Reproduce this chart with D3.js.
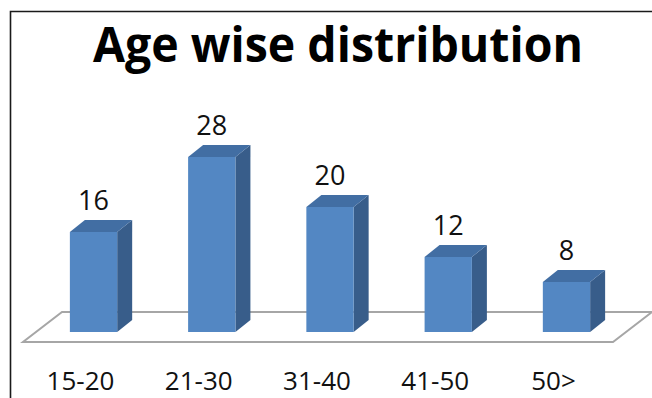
<!DOCTYPE html>
<html>
<head>
<meta charset="utf-8">
<script src="https://cdn.jsdelivr.net/npm/d3@7/dist/d3.min.js"></script>
<style>
  html, body { margin: 0; padding: 0; background: #fff; }
  svg { display: block; }
</style>
</head>
<body>
<svg id="chart" width="652" height="398"></svg>
<script>
const categories = ["15-20", "21-30", "31-40", "41-50", "50>"];
const values = [16, 28, 20, 12, 8];
const titleText = "Age wise distribution";

const W = 652, H = 398;
const svg = d3.select("#chart");

// frame (left and top edges visible)
svg.append("path")
  .attr("d", `M10.5,${H} L10.5,11.5 L${W},11.5`)
  .attr("fill", "none").attr("stroke", "#1a1a1a").attr("stroke-width", 1.6);

// title
const title = svg.append("text")
  .attr("x", 338).attr("y", 62)
  .attr("text-anchor", "middle")
  .attr("font-family", "'Open Sans', sans-serif")
  .attr("font-weight", "bold")
  .attr("font-size", 48)
  .attr("fill", "#000")
  .text(titleText);
const tl = title.node().getComputedTextLength();
if (tl > 490) title.attr("textLength", 490).attr("lengthAdjust", "spacingAndGlyphs");

const x = d3.scaleBand().domain(categories).range([34.4, 625.6])
  .paddingInner(0.6).paddingOuter(0.3);
const y = d3.scaleLinear().domain([0, 28]).range([332, 157]);

const depthX = 15, depthY = -12;

// floor
const floorFront = 342, floorBack = 312;
svg.append("path")
  .attr("d", `M23,${floorFront} L613,${floorFront} L652,${floorBack} L62,${floorBack} Z`)
  .attr("fill", "#fff").attr("stroke", "#a6a6a6").attr("stroke-width", 2);

const g = svg.append("g");
const bars = g.selectAll("g.bar").data(categories.map((c, i) => ({c, v: values[i]})))
  .enter().append("g").attr("class", "bar");

bars.each(function(d) {
  const el = d3.select(this);
  const x0 = x(d.c), w = x.bandwidth();
  const yt = y(d.v), yb = y(0);
  // side
  el.append("path")
    .attr("d", `M${x0 + w},${yt} L${x0 + w + depthX},${yt + depthY} L${x0 + w + depthX},${yb + depthY} L${x0 + w},${yb} Z`)
    .attr("fill", "#385d8a");
  // top
  el.append("path")
    .attr("d", `M${x0},${yt} L${x0 + depthX},${yt + depthY} L${x0 + w + depthX},${yt + depthY} L${x0 + w},${yt} Z`)
    .attr("fill", "#426ea3");
  // front
  el.append("rect")
    .attr("x", x0).attr("y", yt).attr("width", w).attr("height", yb - yt)
    .attr("fill", "#5387c3");
  // value label
  el.append("text")
    .attr("x", x0 + w / 2).attr("y", yt + depthY - 10)
    .attr("text-anchor", "middle")
    .attr("font-family", "'Open Sans', sans-serif")
    .attr("font-size", 27).attr("fill", "#111")
    .text(d.v);
});

// category labels
svg.selectAll("text.cat").data(categories).enter().append("text")
  .attr("class", "cat")
  .attr("x", d => x(d) + x.bandwidth() / 2 - 13)
  .attr("y", 390)
  .attr("text-anchor", "middle")
  .attr("font-family", "'Open Sans', sans-serif")
  .attr("font-size", 26).attr("fill", "#111")
  .text(d => d);
</script>
</body>
</html>
